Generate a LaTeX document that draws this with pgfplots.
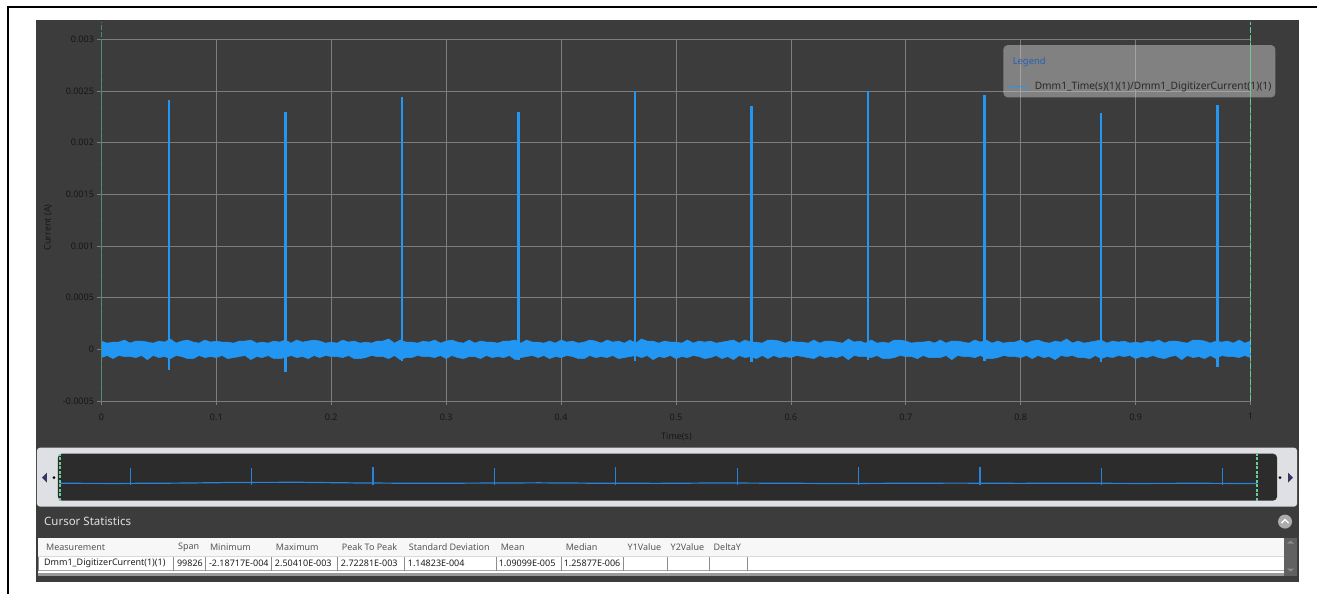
\documentclass[border=0pt]{standalone}
\usepackage{fontspec}
\setmainfont{Noto Sans}
\usepackage{pgfplots}
\usepackage{pgfplotstable}
\pgfplotsset{compat=1.18}

\definecolor{panelbg}{RGB}{60,60,60}
\definecolor{gridc}{RGB}{125,125,125}
\definecolor{sig}{RGB}{33,150,243}
\definecolor{ovsig}{RGB}{40,130,215}
\definecolor{cursL}{RGB}{70,140,110}
\definecolor{cursR}{RGB}{105,205,150}
\definecolor{tickc}{RGB}{22,22,22}
\definecolor{legblue}{RGB}{40,95,185}
\definecolor{legtext}{RGB}{40,40,40}
\definecolor{framec}{RGB}{222,224,228}
\definecolor{ovbg}{RGB}{44,44,44}
\definecolor{hdrtext}{RGB}{85,85,85}
\definecolor{rowtext}{RGB}{30,30,30}

% noise band outline: upper edge left to right, then lower edge right to left
\pgfplotstableread{
x y
0.000 8e-5
0.005 6e-5
0.010 7e-5
0.015 7e-5
0.020 9e-5
0.025 6e-5
0.030 8e-5
0.035 8e-5
0.040 7e-5
0.045 6e-5
0.050 8e-5
0.055 7e-5
0.060 10e-5
0.065 6e-5
0.070 8e-5
0.075 9e-5
0.080 7e-5
0.085 6e-5
0.090 9e-5
0.095 7e-5
0.100 8e-5
0.105 7e-5
0.110 7e-5
0.115 6e-5
0.120 8e-5
0.125 8e-5
0.130 9e-5
0.135 6e-5
0.140 7e-5
0.145 6e-5
0.150 8e-5
0.155 7e-5
0.160 9e-5
0.165 6e-5
0.170 9e-5
0.175 7e-5
0.180 8e-5
0.185 9e-5
0.190 8e-5
0.195 6e-5
0.200 7e-5
0.205 6e-5
0.210 9e-5
0.215 7e-5
0.220 8e-5
0.225 6e-5
0.230 7e-5
0.235 6e-5
0.240 8e-5
0.245 8e-5
0.250 10e-5
0.255 6e-5
0.260 9e-5
0.265 7e-5
0.270 7e-5
0.275 6e-5
0.280 8e-5
0.285 7e-5
0.290 9e-5
0.295 6e-5
0.300 8e-5
0.305 9e-5
0.310 7e-5
0.315 6e-5
0.320 9e-5
0.325 6e-5
0.330 8e-5
0.335 7e-5
0.340 7e-5
0.345 6e-5
0.350 8e-5
0.355 8e-5
0.360 9e-5
0.365 6e-5
0.370 9e-5
0.375 7e-5
0.380 7e-5
0.385 6e-5
0.390 8e-5
0.395 6e-5
0.400 9e-5
0.405 7e-5
0.410 8e-5
0.415 6e-5
0.420 7e-5
0.425 9e-5
0.430 8e-5
0.435 6e-5
0.440 9e-5
0.445 7e-5
0.450 8e-5
0.455 6e-5
0.460 9e-5
0.465 6e-5
0.470 10e-5
0.475 8e-5
0.480 8e-5
0.485 6e-5
0.490 8e-5
0.495 7e-5
0.500 7e-5
0.505 6e-5
0.510 9e-5
0.515 6e-5
0.520 8e-5
0.525 7e-5
0.530 8e-5
0.535 6e-5
0.540 7e-5
0.545 8e-5
0.550 9e-5
0.555 6e-5
0.560 9e-5
0.565 7e-5
0.570 7e-5
0.575 6e-5
0.580 9e-5
0.585 9e-5
0.590 8e-5
0.595 6e-5
0.600 8e-5
0.605 7e-5
0.610 7e-5
0.615 6e-5
0.620 9e-5
0.625 6e-5
0.630 8e-5
0.635 8e-5
0.640 7e-5
0.645 6e-5
0.650 10e-5
0.655 7e-5
0.660 8e-5
0.665 6e-5
0.670 9e-5
0.675 6e-5
0.680 7e-5
0.685 6e-5
0.690 9e-5
0.695 9e-5
0.700 8e-5
0.705 6e-5
0.710 7e-5
0.715 7e-5
0.720 8e-5
0.725 6e-5
0.730 9e-5
0.735 6e-5
0.740 8e-5
0.745 8e-5
0.750 7e-5
0.755 6e-5
0.760 9e-5
0.765 7e-5
0.770 9e-5
0.775 6e-5
0.780 8e-5
0.785 6e-5
0.790 7e-5
0.795 7e-5
0.800 9e-5
0.805 6e-5
0.810 8e-5
0.815 9e-5
0.820 7e-5
0.825 6e-5
0.830 8e-5
0.835 7e-5
0.840 10e-5
0.845 6e-5
0.850 8e-5
0.855 6e-5
0.860 7e-5
0.865 8e-5
0.870 9e-5
0.875 6e-5
0.880 8e-5
0.885 7e-5
0.890 8e-5
0.895 6e-5
0.900 7e-5
0.905 6e-5
0.910 8e-5
0.915 7e-5
0.920 9e-5
0.925 6e-5
0.930 8e-5
0.935 8e-5
0.940 7e-5
0.945 6e-5
0.950 9e-5
0.955 9e-5
0.960 8e-5
0.965 6e-5
0.970 8e-5
0.975 7e-5
0.980 8e-5
0.985 6e-5
0.990 9e-5
0.995 6e-5
1.000 8e-5
1.000 -8e-5
0.995 -6e-5
0.990 -8e-5
0.985 -7e-5
0.980 -7e-5
0.975 -6e-5
0.970 -9e-5
0.965 -6e-5
0.960 -9e-5
0.955 -7e-5
0.950 -8e-5
0.945 -6e-5
0.940 -10e-5
0.935 -6e-5
0.930 -7e-5
0.925 -9e-5
0.920 -8e-5
0.915 -6e-5
0.910 -8e-5
0.905 -7e-5
0.900 -9e-5
0.895 -6e-5
0.890 -7e-5
0.885 -6e-5
0.880 -8e-5
0.875 -7e-5
0.870 -9e-5
0.865 -6e-5
0.860 -9e-5
0.855 -8e-5
0.850 -8e-5
0.845 -6e-5
0.840 -7e-5
0.835 -6e-5
0.830 -10e-5
0.825 -7e-5
0.820 -8e-5
0.815 -6e-5
0.810 -9e-5
0.805 -6e-5
0.800 -8e-5
0.795 -7e-5
0.790 -7e-5
0.785 -6e-5
0.780 -8e-5
0.775 -9e-5
0.770 -9e-5
0.765 -6e-5
0.760 -8e-5
0.755 -7e-5
0.750 -7e-5
0.745 -6e-5
0.740 -10e-5
0.735 -6e-5
0.730 -8e-5
0.725 -8e-5
0.720 -8e-5
0.715 -6e-5
0.710 -9e-5
0.705 -7e-5
0.700 -7e-5
0.695 -6e-5
0.690 -8e-5
0.685 -9e-5
0.680 -9e-5
0.675 -6e-5
0.670 -8e-5
0.665 -7e-5
0.660 -7e-5
0.655 -6e-5
0.650 -10e-5
0.645 -6e-5
0.640 -8e-5
0.635 -7e-5
0.630 -8e-5
0.625 -6e-5
0.620 -9e-5
0.615 -8e-5
0.610 -7e-5
0.605 -6e-5
0.600 -8e-5
0.595 -7e-5
0.590 -8e-5
0.585 -6e-5
0.580 -9e-5
0.575 -6e-5
0.570 -9e-5
0.565 -7e-5
0.560 -8e-5
0.555 -6e-5
0.550 -10e-5
0.545 -7e-5
0.540 -9e-5
0.535 -6e-5
0.530 -8e-5
0.525 -9e-5
0.520 -7e-5
0.515 -6e-5
0.510 -8e-5
0.505 -7e-5
0.500 -9e-5
0.495 -6e-5
0.490 -8e-5
0.485 -7e-5
0.480 -10e-5
0.475 -6e-5
0.470 -8e-5
0.465 -6e-5
0.460 -7e-5
0.455 -8e-5
0.450 -9e-5
0.445 -6e-5
0.440 -8e-5
0.435 -7e-5
0.430 -8e-5
0.425 -6e-5
0.420 -9e-5
0.415 -9e-5
0.410 -7e-5
0.405 -6e-5
0.400 -8e-5
0.395 -7e-5
0.390 -9e-5
0.385 -6e-5
0.380 -8e-5
0.375 -6e-5
0.370 -7e-5
0.365 -8e-5
0.360 -10e-5
0.355 -6e-5
0.350 -8e-5
0.345 -7e-5
0.340 -8e-5
0.335 -6e-5
0.330 -9e-5
0.325 -7e-5
0.320 -7e-5
0.315 -9e-5
0.310 -8e-5
0.305 -6e-5
0.300 -9e-5
0.295 -6e-5
0.290 -8e-5
0.285 -7e-5
0.280 -7e-5
0.275 -6e-5
0.270 -8e-5
0.265 -8e-5
0.260 -10e-5
0.255 -6e-5
0.250 -9e-5
0.245 -7e-5
0.240 -7e-5
0.235 -6e-5
0.230 -8e-5
0.225 -9e-5
0.220 -9e-5
0.215 -6e-5
0.210 -8e-5
0.205 -7e-5
0.200 -7e-5
0.195 -6e-5
0.190 -8e-5
0.185 -6e-5
0.180 -9e-5
0.175 -7e-5
0.170 -8e-5
0.165 -6e-5
0.160 -8e-5
0.155 -9e-5
0.150 -9e-5
0.145 -6e-5
0.140 -8e-5
0.135 -7e-5
0.130 -10e-5
0.125 -6e-5
0.120 -7e-5
0.115 -8e-5
0.110 -9e-5
0.105 -6e-5
0.100 -8e-5
0.095 -7e-5
0.090 -8e-5
0.085 -6e-5
0.080 -9e-5
0.075 -9e-5
0.070 -7e-5
0.065 -6e-5
0.060 -9e-5
0.055 -7e-5
0.050 -8e-5
0.045 -6e-5
0.040 -10e-5
0.035 -6e-5
0.030 -8e-5
0.025 -7e-5
0.020 -7e-5
0.015 -6e-5
0.010 -9e-5
0.005 -6e-5
0.000 -8e-5
}\noise

\pgfplotstableread{
x peak dip
0.0587 0.00241 -0.00020
0.1601 0.00230 -0.00022
0.2615 0.00244 -0.00011
0.3629 0.00230 -0.00010
0.4643 0.00250 -0.00011
0.5657 0.00235 -0.00012
0.6671 0.00250 -0.00010
0.7685 0.00246 -0.00011
0.8699 0.00229 -0.00012
0.9713 0.00236 -0.00017
}\spikes

\pgfplotstableread{
x y
0.00 0.00005
0.05 0.00003
0.10 0.00008
0.15 0.00018
0.20 0.00020
0.25 0.00010
0.30 0.00005
0.35 0.00008
0.40 0.00012
0.45 0.00006
0.50 0.00004
0.55 0.00010
0.60 0.00006
0.65 0.00002
0.70 0.00005
0.75 0.00008
0.80 0.00004
0.85 0.00006
0.90 0.00003
0.95 0.00005
1.00 0.00002
}\ovbase

\begin{document}
\begin{tikzpicture}[x=1pt,y=1pt]
\path (0,0) rectangle (1318,594);
% outer frame lines
\draw[line width=2pt] (8,0) -- (8,587) -- (1318,587);
% dark panel
\fill[panelbg] (36,12) rectangle (1300,574);

% main plot
\begin{axis}[
  at={(101.5pt,192.7pt)}, anchor=south west,
  width=1150pt, height=362pt, scale only axis,
  xmin=0, xmax=1, ymin=-0.0005, ymax=0.003,
  scaled x ticks=false, scaled y ticks=false,
  axis line style={draw=none},
  tick pos=left, tick align=outside,
  major tick length=4pt,
  tick style={gridc, line width=0.8pt},
  xtick={0,0.1,0.2,0.3,0.4,0.5,0.6,0.7,0.8,0.9,1},
  xticklabels={0,0.1,0.2,0.3,0.4,0.5,0.6,0.7,0.8,0.9,1},
  ytick={-0.0005,0,0.0005,0.001,0.0015,0.002,0.0025,0.003},
  yticklabels={-0.0005,0,0.0005,0.001,0.0015,0.002,0.0025,0.003},
  grid=major, major grid style={gridc, line width=0.8pt},
  tick label style={font=\fontsize{9}{10}\selectfont, color=tickc},
  xticklabel style={yshift=-5pt},
  xlabel={Time(s)}, ylabel={Current (A)},
  label style={font=\fontsize{9}{10}\selectfont, color=tickc},
  xlabel style={at={(axis description cs:0.5004,-0.0986)}, anchor=center},
  ylabel style={at={(axis description cs:-0.0465,0.48)}, anchor=center},
  legend style={at={(axis description cs:0.7848,0.9843)}, anchor=north west,
    fill=white!78!black, fill opacity=0.5, text opacity=1, draw=none,
    rounded corners=4pt, font=\fontsize{10.2}{12}\selectfont, text=legtext,
    inner xsep=3pt, inner ysep=5pt, row sep=14pt,
    nodes={inner sep=1pt}, cells={anchor=west}},
  legend image code/.code={\draw[#1] (0pt,0pt) -- (22pt,0pt); \path (26pt,0pt);},
]
\addplot[fill=sig, draw=sig, line width=0.5pt, forget plot] table[x=x,y=y]{\noise};
\addplot[ycomb, draw=sig, line width=2.5pt, forget plot] table[x=x,y=peak]{\spikes};
\addplot[ycomb, draw=sig, line width=2.5pt, forget plot] table[x=x,y=dip]{\spikes};
\addlegendimage{empty legend}
\addlegendentry{\rule{0pt}{13.7pt}\hspace*{-22pt}\textcolor{legblue}{\fontsize{9.4}{11}\selectfont\bfseries Legend}}
\addlegendimage{draw=sig, line width=1.3pt}
\addlegendentry{Dmm1\_Time(s)(1)(1)/Dmm1\_DigitizerCurrent(1)(1)}
\end{axis}

% cursor overlay
\begin{axis}[
  at={(101.5pt,192.7pt)}, anchor=south west,
  width=1150pt, height=379.3pt, scale only axis,
  xmin=0, xmax=1, ymin=-0.0005, ymax=0.003167,
  hide axis, clip=false]
\addplot[cursL, line width=1.2pt, dash pattern=on 5pt off 2pt] coordinates {(0,-0.0005) (0,0.003167)};
\addplot[cursR, line width=1.4pt, dash pattern=on 6pt off 2pt] coordinates {(1,-0.0005) (1,0.003167)};
\end{axis}

% overview strip
\fill[framec, rounded corners=3pt] (37,87) rectangle (1298,146);
\fill[ovbg, rounded corners=4pt] (58,93) rectangle (1278,140);
\fill[gray!70!blue!60!black] (42,116) -- (47,121) -- (47,111) -- cycle;
\fill[black] (54,116) circle (1.5);
\fill[black] (1281,116) circle (1.5);
\fill[gray!70!blue!60!black] (1294,116) -- (1289,121) -- (1289,111) -- cycle;
\begin{axis}[
  at={(58pt,93pt)}, anchor=south west,
  width=1220pt, height=47pt, scale only axis,
  xmin=-0.00167, xmax=1.0167, ymin=-0.00255, ymax=0.0045,
  hide axis]
\addplot[ovsig, line width=1.2pt] table[x=x,y=y]{\ovbase};
\addplot[ycomb, ovsig, line width=1.3pt] table[x=x,y=peak]{\spikes};
\addplot[ycomb, ovsig, line width=1.3pt] table[x=x,y=dip]{\spikes};
\addplot[cursR, line width=1.2pt, dash pattern=on 3pt off 1.5pt] coordinates {(0,-0.00255) (0,0.0045)};
\addplot[cursR, line width=1.2pt, dash pattern=on 3pt off 1.5pt] coordinates {(1,-0.00255) (1,0.0045)};
\end{axis}

% cursor statistics header
\node[anchor=west, inner sep=0pt, font=\fontsize{11.5}{12}\selectfont, text=white!88!black] at (44,72) {Cursor Statistics};
\fill[gray!65] (1286,72) circle (7);
\draw[white, line width=1.3pt] (1282.5,70.5) -- (1286,74) -- (1289.5,70.5);

% table
\fill[white] (38,18) rectangle (1285,56);
\fill[black!3] (38,37) rectangle (1285,56);
\draw[black!15, line width=0.8pt] (38,37) -- (1285,37);
\draw[black!35, line width=0.8pt] (38,23) -- (1285,23);
\fill[black!40] (38,18) rectangle (1285,21);
\foreach \s in {38,174,206,272,338,405,497,562,624,668,710,748}
  \draw[black!45, line width=0.8pt] (\s,23) -- (\s,37);
\fill[black!62] (1285,18) rectangle (1298,56);
\fill[black!45] (1288,50) -- (1291.5,53) -- (1295,50) -- cycle;
\fill[black!45] (1288,25) -- (1291.5,22) -- (1295,25) -- cycle;

\begin{scope}[every node/.style={anchor=west, inner sep=0pt, font=\fontsize{9}{10}\selectfont, text=hdrtext}]
\node at (46,46) {Measurement};
\node at (178,46) {Span};
\node at (210,46) {Minimum};
\node at (276,46) {Maximum};
\node at (342,46) {Peak To Peak};
\node at (409,46) {Standard Deviation};
\node at (501,46) {Mean};
\node at (566,46) {Median};
\node at (628,46) {Y1Value};
\node at (671,46) {Y2Value};
\node at (714,46) {DeltaY};
\end{scope}
\begin{scope}[every node/.style={anchor=west, inner sep=0pt, font=\fontsize{9}{10}\selectfont, text=rowtext}]
\node at (44,30) {Dmm1\_DigitizerCurrent(1)(1)};
\node at (177,30) {99826};
\node at (209,30) {-2.18717E-004};
\node at (275,30) {2.50410E-003};
\node at (341,30) {2.72281E-003};
\node at (408,30) {1.14823E-004};
\node at (499,30) {1.09099E-005};
\node at (564,30) {1.25877E-006};
\end{scope}
\end{tikzpicture}
\end{document}
